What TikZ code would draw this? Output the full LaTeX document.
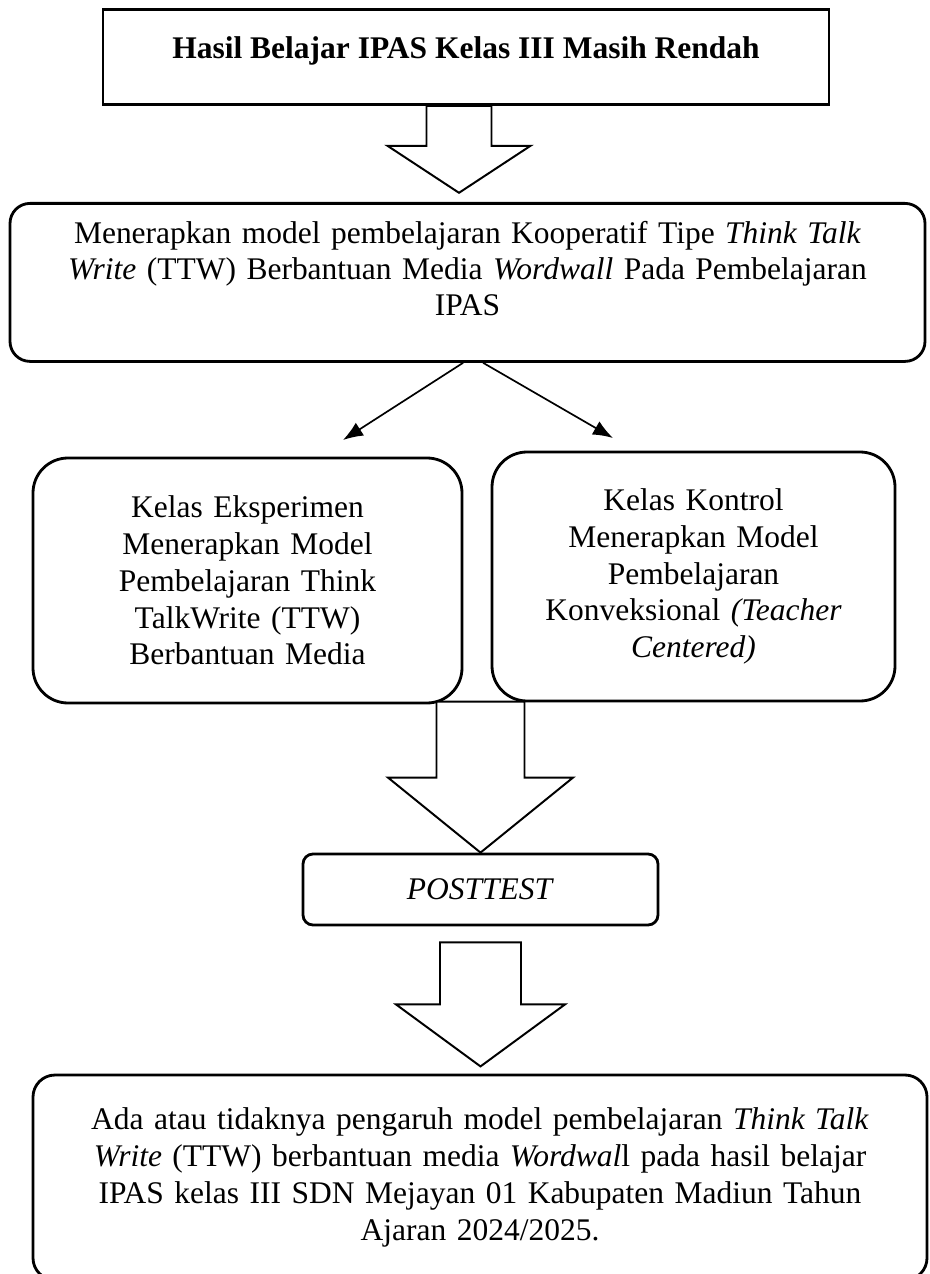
\documentclass[tikz,border=0pt]{standalone}
\usepackage{fontspec}
\setmainfont{Liberation Serif}
\usetikzlibrary{calc,arrows.meta}
\tikzset{
	kotak/.style={draw,line width=2pt,inner sep=0pt,align=center},
	bulat/.style={kotak,rounded corners=#1},
	bulat/.default=.5cm,
	panah/.style={draw,fill=white,line width=1.4pt,line join=miter},
	garis/.style={line width=1.2pt,-{Latex[length=.5cm,width=.38cm]}}
}
\begin{document}
\begin{tikzpicture}[font=\fontsize{22.4}{26.2}\selectfont]
					\useasboundingbox (0,0) rectangle (23.225,-31.85);
					\clip (0,0) rectangle (23.225,-31.85);
					\node[kotak,anchor=north,minimum width=18.15cm,text height=1.225cm,text depth=1.15cm,font=\fontsize{22.4}{26.2}\selectfont\bfseries] (hasil) at (11.65,-.2) {Hasil Belajar IPAS Kelas III Masih Rendah};
					\node[bulat,anchor=north,text width=22.875cm,text height=1.0125cm,text depth=2.9375cm,font=\fontsize{22.4}{25.4}\selectfont] (model) at (11.6875,-5.05) {Menerapkan model pembelajaran Kooperatif Tipe \textit{Think Talk}\\\textit{Write} (TTW) Berbantuan Media \textit{Wordwall} Pada Pembelajaran\\IPAS};
					\node[bulat=.875cm,text width=10.725cm,minimum height=6.125cm] (eksp) at (6.1875,-14.5125) {Kelas Eksperimen\\Menerapkan Model\\Pembelajaran Think\\TalkWrite (TTW)\\Berbantuan Media};
					\node[bulat=.875cm,text width=10.075cm,minimum height=6.225cm] (kontrol) at (17.3375,-14.4125) {Kelas Kontrol\\Menerapkan Model\\Pembelajaran\\Konveksional \textit{(Teacher}\\\textit{Centered)}};
					\node[bulat=.25cm,minimum width=8.875cm,minimum height=1.775cm] (post) at (12.0125,-22.2375) {\textit{POSTTEST}};
					\node[bulat=.55cm,text width=22.35cm,minimum height=5.125cm] (hasilakhir) at (12,-29.4375) {Ada atau tidaknya pengaruh model pembelajaran \textit{Think Talk}\\\textit{Write} (TTW) berbantuan media \textit{Wordwal}l pada hasil belajar\\IPAS kelas III SDN Mejayan 01 Kabupaten Madiun Tahun\\Ajaran 2024/2025.};
					\coordinate (kiri) at (8.575,-11);
					\coordinate (kanan) at (15.325,-10.95);
					\draw[panah] ($(hasil.south)+(-.9875,0)$) -- ++(0,-1) -- ++(-.975,0) -- ++(1.7875,-1.175) -- ++(1.7875,1.175) -- ++(-.975,0) -- ++(0,1) -- cycle;
					\draw[garis] ($(model.south)+(-.11,0)$) -- (kiri);
					\draw[garis] ($(model.south)+(.39,0)$) -- (kanan);
					\draw[panah] (post.north) -- ++(-2.3125,1.875) -- ++(1.2125,0) -- ++(0,1.9) -- ++(2.2,0) -- ++(0,-1.9) -- ++(1.2125,0) -- cycle;
					\draw[panah] ($(post.south)+(-1.0125,-.4)$) -- ++(0,-1.55) -- ++(-1.1,0) -- ++(2.1125,-1.55) -- ++(2.1125,1.55) -- ++(-1.1,0) -- ++(0,1.55) -- cycle;
				\end{tikzpicture}
\end{document}
